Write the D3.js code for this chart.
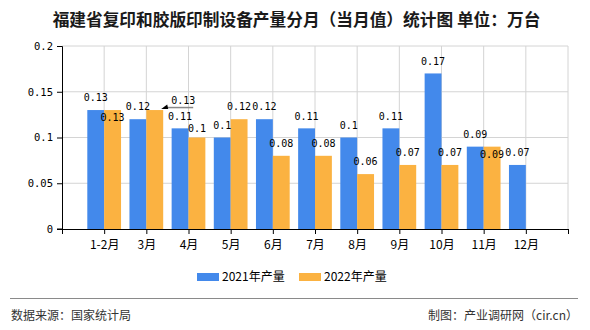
<!DOCTYPE html>
<html><head><meta charset="utf-8">
<script src="https://cdn.jsdelivr.net/npm/d3@7/dist/d3.min.js"></script>
<style>
html,body{margin:0;padding:0;background:#fff;}
svg{display:block;}
</style></head>
<body>
<svg id="chart" width="590" height="330"></svg>
<script>
const categories = ["1-2月","3月","4月","5月","6月","7月","8月","9月","10月","11月","12月"];
const values2021 = [0.13,0.12,0.11,0.10,0.12,0.11,0.10,0.11,0.17,0.09,0.07];
const values2022 = [0.13,0.13,0.10,0.12,0.08,0.08,0.06,0.07,0.07,0.09,null];
const seriesNames = ["2021年产量","2022年产量"];
const yTicks = [0,0.05,0.1,0.15,0.2];
const colors = ["#4389EB","#FBB241"];

const svg = d3.select("#chart");
const L = 62, R = 568, T = 46, B = 229;
const domain = ["_s", ...categories, "_e"];
const x = d3.scalePoint().domain(domain).range([L, R]);
const step = x.step();
const bw = step * 0.4;
const y = d3.scaleLinear().domain([0, 0.2]).range([B, T]);

const cjk = "'Noto Sans CJK SC','Noto Sans',sans-serif";
const mono = "'DejaVu Sans Mono','Liberation Mono',monospace";

// title
svg.append("text").attr("x", 296.5).attr("y", 26).attr("text-anchor","middle")
  .attr("font-family", cjk).attr("font-size", 16.7).attr("font-weight","bold").attr("fill","#1a1a1a")
  .text("福建省复印和胶版印制设备产量分月（当月值）统计图 单位：万台");

// grid
const g = svg.append("g");
g.selectAll("line.hg").data(yTicks.slice(1)).join("line")
  .attr("x1", L).attr("x2", R).attr("y1", d => y(d)).attr("y2", d => y(d))
  .attr("stroke", "#d4d4d4").attr("stroke-width", 1);
g.selectAll("line.vg").data(domain.slice(1)).join("line")
  .attr("x1", d => x(d)).attr("x2", d => x(d)).attr("y1", T).attr("y2", B)
  .attr("stroke", "#d4d4d4").attr("stroke-width", 1);

// bars
const series = [values2021, values2022];
series.forEach((vals, s) => {
  svg.append("g").selectAll("rect").data(categories.map((c,i)=>({c, v: vals[i]})).filter(d => d.v != null))
    .join("rect")
    .attr("x", d => x(d.c) - bw + s * bw)
    .attr("y", d => y(d.v))
    .attr("width", bw)
    .attr("height", d => B - y(d.v))
    .attr("fill", colors[s]);
});

// axes
const yAxis = d3.axisLeft(y).tickValues(yTicks).tickSize(5).tickFormat(d => d === 0 ? "0" : String(d));
const ya = svg.append("g").attr("transform", `translate(${L},0)`).call(yAxis);
ya.select(".domain").attr("stroke","#000");
ya.selectAll(".tick line").attr("stroke","#000");
ya.selectAll("text").attr("font-family", mono).attr("font-size", 10.5).attr("fill","#000").attr("dx", -1);

const xAxis = d3.axisBottom(x).tickSize(5).tickSizeOuter(0).tickFormat(d => d.startsWith("_") ? "" : d);
const xa = svg.append("g").attr("transform", `translate(0,${B})`).call(xAxis);
xa.select(".domain").attr("stroke","#000");
xa.selectAll(".tick line").attr("stroke","#000");
xa.selectAll("text").attr("font-family", cjk).attr("font-size", 12).attr("fill","#000").attr("dy", "1.0em");
svg.append("line").attr("x1", L - 5).attr("x2", L).attr("y1", B).attr("y2", B).attr("stroke","#000");

// value labels
const fmt = v => String(+v.toFixed(2));
// label layout adjustments (collision avoidance as seen in the original)
const nudge2022 = {0: {dy: 20}, 1: {leader: true}, 2: {dy: 3}, 9: {dy: 20}};
const lab = svg.append("g").attr("font-family", mono).attr("font-size", 10).attr("fill","#000").attr("text-anchor","middle");
series.forEach((vals, s) => {
  categories.forEach((c, i) => {
    const v = vals[i];
    if (v == null) return;
    const cx = x(c) - bw / 2 + s * bw;
    const top = y(v);
    let lx = cx, ly = top - 12.3;
    const n = s === 1 ? nudge2022[i] : null;
    if (n && n.dy) ly += n.dy;
    if (n && n.leader) {
      const ax = x(c) + bw + 4, ay = top - 2.5;
      lab.append("line").attr("x1", ax).attr("x2", ax + 26).attr("y1", ay).attr("y2", ay)
        .attr("stroke", "#888").attr("stroke-width", 1.5);
      lab.append("path").attr("d", `M${ax-6},${ay+1.5} L${ax},${ay-3} L${ax+1},${ay+1.5} Z`).attr("fill","#000");
      lx = ax + 16; ly = ay - 7;
    }
    lab.append("text").attr("x", lx).attr("y", ly).attr("dy", "0.35em").text(fmt(v));
  });
});

// legend
const lg = svg.append("g").attr("font-family", cjk).attr("font-size", 12).attr("fill","#000");
[197, 299].forEach((lx, s) => {
  lg.append("rect").attr("x", lx).attr("y", 273).attr("width", 22).attr("height", 8).attr("fill", colors[s]);
  lg.append("text").attr("x", lx + 25).attr("y", 277).attr("dy","0.35em").text(seriesNames[s]);
});

// footer
svg.append("line").attr("x1", 10).attr("x2", 578).attr("y1", 298.5).attr("y2", 298.5).attr("stroke","#8a8a8a").attr("stroke-width",1);
svg.append("text").attr("x", 11).attr("y", 316).attr("dy","0.35em").attr("font-family", cjk).attr("font-size", 12).attr("fill","#333")
  .text("数据来源：国家统计局");
svg.append("text").attr("x", 578).attr("y", 316).attr("dy","0.35em").attr("text-anchor","end").attr("font-family", cjk).attr("font-size", 12).attr("fill","#333")
  .text("制图：产业调研网（cir.cn）");
</script>
</body></html>
